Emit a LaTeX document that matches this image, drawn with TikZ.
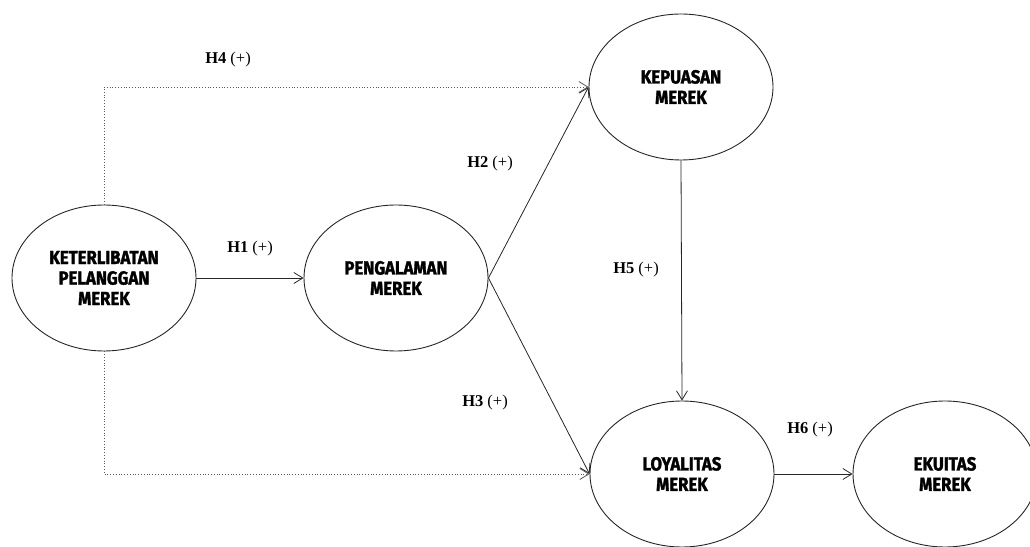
\documentclass[tikz,border=0pt]{standalone}
\usepackage{fontspec}
\setmainfont{Liberation Serif}
\newfontfamily\constructfont[FakeStretch=0.88, BoldFeatures={FakeBold=1.6}]{Fira Sans}
\usetikzlibrary{arrows.meta,calc,shapes.geometric}

\tikzset{
  construct/.style={draw=black!85, line width=0.9pt, ellipse, minimum width=184pt,
    minimum height=146pt, inner sep=0pt, align=center,
    font=\constructfont\bfseries\fontsize{19}{20.5}\selectfont},
  path/.style={draw=black!85, line width=0.8pt,
    -{Straight Barb[length=9pt,width=11pt,line width=0.8pt]}},
  indirect/.style={path, draw=black!65, dotted},
  hyp/.style={font=\fontsize{16.5}{18}\selectfont, inner sep=0pt},
}
\newcommand{\hlabel}[1]{\textbf{H#1} (+)}

\begin{document}
\begin{tikzpicture}[x=1pt,y=1pt]
  \useasboundingbox (0,0) rectangle (1030,546);

  % constructs
  \node[construct] (kpm) at (104,268) {KETERLIBATAN\\PELANGGAN\\MEREK};
  \node[construct] (pm)  at (396,268) {PENGALAMAN\\MEREK};
  \node[construct] (kep) at (681,459) {KEPUASAN\\MEREK};
  \node[construct] (loy) at (682,72)  {LOYALITAS\\MEREK};
  \node[construct] (eku) at (945,72)  {EKUITAS\\MEREK};

  % hypothesised paths
  \draw[path] (kpm.east) -- (pm.west);
  \draw[path] (pm.east) -- (kep.west);
  \draw[path] (pm.east) -- (loy.west);
  \draw[indirect] (kpm.north) |- (kep.west);
  \draw[indirect] (kpm.south) |- (loy.west);
  \draw[path] (kep.south) -- (loy.north);
  \draw[path] (loy.east) -- (eku.west);

  % path labels
  \node[hyp] (h1) at (250,297) {\hlabel{1}};
  \node[hyp] (h2) at (490,382) {\hlabel{2}};
  \node[hyp] (h3) at (485,143) {\hlabel{3}};
  \node[hyp] (h4) at (228,486) {\hlabel{4}};
  \node[hyp] (h5) at (636,276) {\hlabel{5}};
  \node[hyp] (h6) at (810,116) {\hlabel{6}};
\end{tikzpicture}
\end{document}
